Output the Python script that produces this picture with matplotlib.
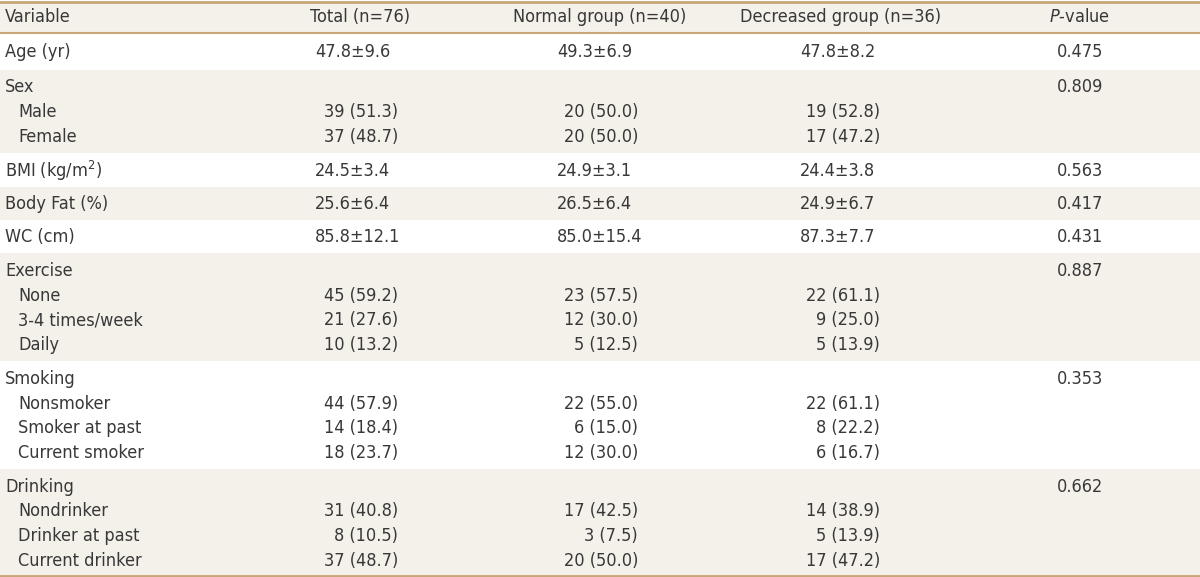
import matplotlib.pyplot as plt
from matplotlib import font_manager

# table content
header = ["Variable", "Total (n=76)", "Normal group (n=40)", "Decreased group (n=36)", "P-value"]

# each block: (title, sub rows, total, normal, decreased, p-value)
# single rows have no sub rows and hold mean±SD strings
blocks = [
    ("Age (yr)", [], ["47.8±9.6"], ["49.3±6.9"], ["47.8±8.2"], "0.475"),
    ("Sex", ["Male", "Female"],
     ["39 (51.3)", "37 (48.7)"], ["20 (50.0)", "20 (50.0)"], ["19 (52.8)", "17 (47.2)"], "0.809"),
    ("BMI (kg/m$^2$)", [], ["24.5±3.4"], ["24.9±3.1"], ["24.4±3.8"], "0.563"),
    ("Body Fat (%)", [], ["25.6±6.4"], ["26.5±6.4"], ["24.9±6.7"], "0.417"),
    ("WC (cm)", [], ["85.8±12.1"], ["85.0±15.4"], ["87.3±7.7"], "0.431"),
    ("Exercise", ["None", "3-4 times/week", "Daily"],
     ["45 (59.2)", "21 (27.6)", "10 (13.2)"], ["23 (57.5)", "12 (30.0)", "5 (12.5)"],
     ["22 (61.1)", "9 (25.0)", "5 (13.9)"], "0.887"),
    ("Smoking", ["Nonsmoker", "Smoker at past", "Current smoker"],
     ["44 (57.9)", "14 (18.4)", "18 (23.7)"], ["22 (55.0)", "6 (15.0)", "12 (30.0)"],
     ["22 (61.1)", "8 (22.2)", "6 (16.7)"], "0.353"),
    ("Drinking", ["Nondrinker", "Drinker at past", "Current drinker"],
     ["31 (40.8)", "8 (10.5)", "37 (48.7)"], ["17 (42.5)", "3 (7.5)", "20 (50.0)"],
     ["14 (38.9)", "5 (13.9)", "17 (47.2)"], "0.662"),
]

names = {f.name for f in font_manager.fontManager.ttflist}
family = "Liberation Sans Narrow" if "Liberation Sans Narrow" in names else "DejaVu Sans"
plt.rcParams['font.family'] = [family, 'DejaVu Sans']
plt.rcParams['font.stretch'] = 'condensed'
plt.rcParams['mathtext.fontset'] = 'custom'
plt.rcParams['mathtext.rm'] = 'DejaVu Sans:stretch=condensed'
plt.rcParams['mathtext.it'] = 'DejaVu Sans:italic:stretch=condensed'
fs = 13

txt = "#383838"
beige = "#f4f0ea"
rule = "#c9a677"

fig = plt.figure(figsize=(12, 5.77), dpi=100)
ax = fig.add_axes([0, 0, 1, 1])
ax.set_xlim(0, 1200)
ax.set_ylim(577, 0)
ax.axis("off")

# column anchors
mean_x = [315, 557, 800]
count_x = [398, 638, 880]
head_x = [360, 600, 840]
p_x = 1080
line_h = 24.8

# header
ax.axhspan(1, 33, color=beige, lw=0)
ax.axhline(1.5, color=rule, lw=2)
ax.axhline(33, color=rule, lw=1.5)
ax.text(5, 17, header[0], fontsize=fs, color=txt, va="center", ha="left")
for i in range(3):
    ax.text(head_x[i], 17, header[i + 1], fontsize=fs, color=txt, va="center", ha="center")
ax.text(p_x, 17, "$\\it{P}$-value", fontsize=fs, color=txt, va="center", ha="center")

y = 33
for k, (title, subs, tot, nor, dec, p) in enumerate(blocks):
    if subs:
        h = len(subs) * line_h + 33.5
    else:
        h = 37 if k == 0 else 33.4
    if k % 2 == 1:
        ax.axhspan(y, y + h, color=beige, lw=0)
    first = y + (h / 2 + 0.8 if not subs else 17.5)
    ax.text(5, first, title, fontsize=fs, color=txt, va="center", ha="left")
    ax.text(p_x, first, p, fontsize=fs, color=txt, va="center", ha="center")
    if not subs:
        for i, vals in enumerate([tot, nor, dec]):
            ax.text(mean_x[i], first, vals[0], fontsize=fs, color=txt, va="center", ha="left")
    else:
        for j, s in enumerate(subs):
            yy = first + (j + 1) * line_h
            ax.text(18, yy, s, fontsize=fs, color=txt, va="center", ha="left")
            for i, vals in enumerate([tot, nor, dec]):
                ax.text(count_x[i], yy, vals[j], fontsize=fs, color=txt, va="center", ha="right")
    y += h

ax.axhline(575.5, color=rule, lw=2)

fig.savefig("out.png", dpi=100)
